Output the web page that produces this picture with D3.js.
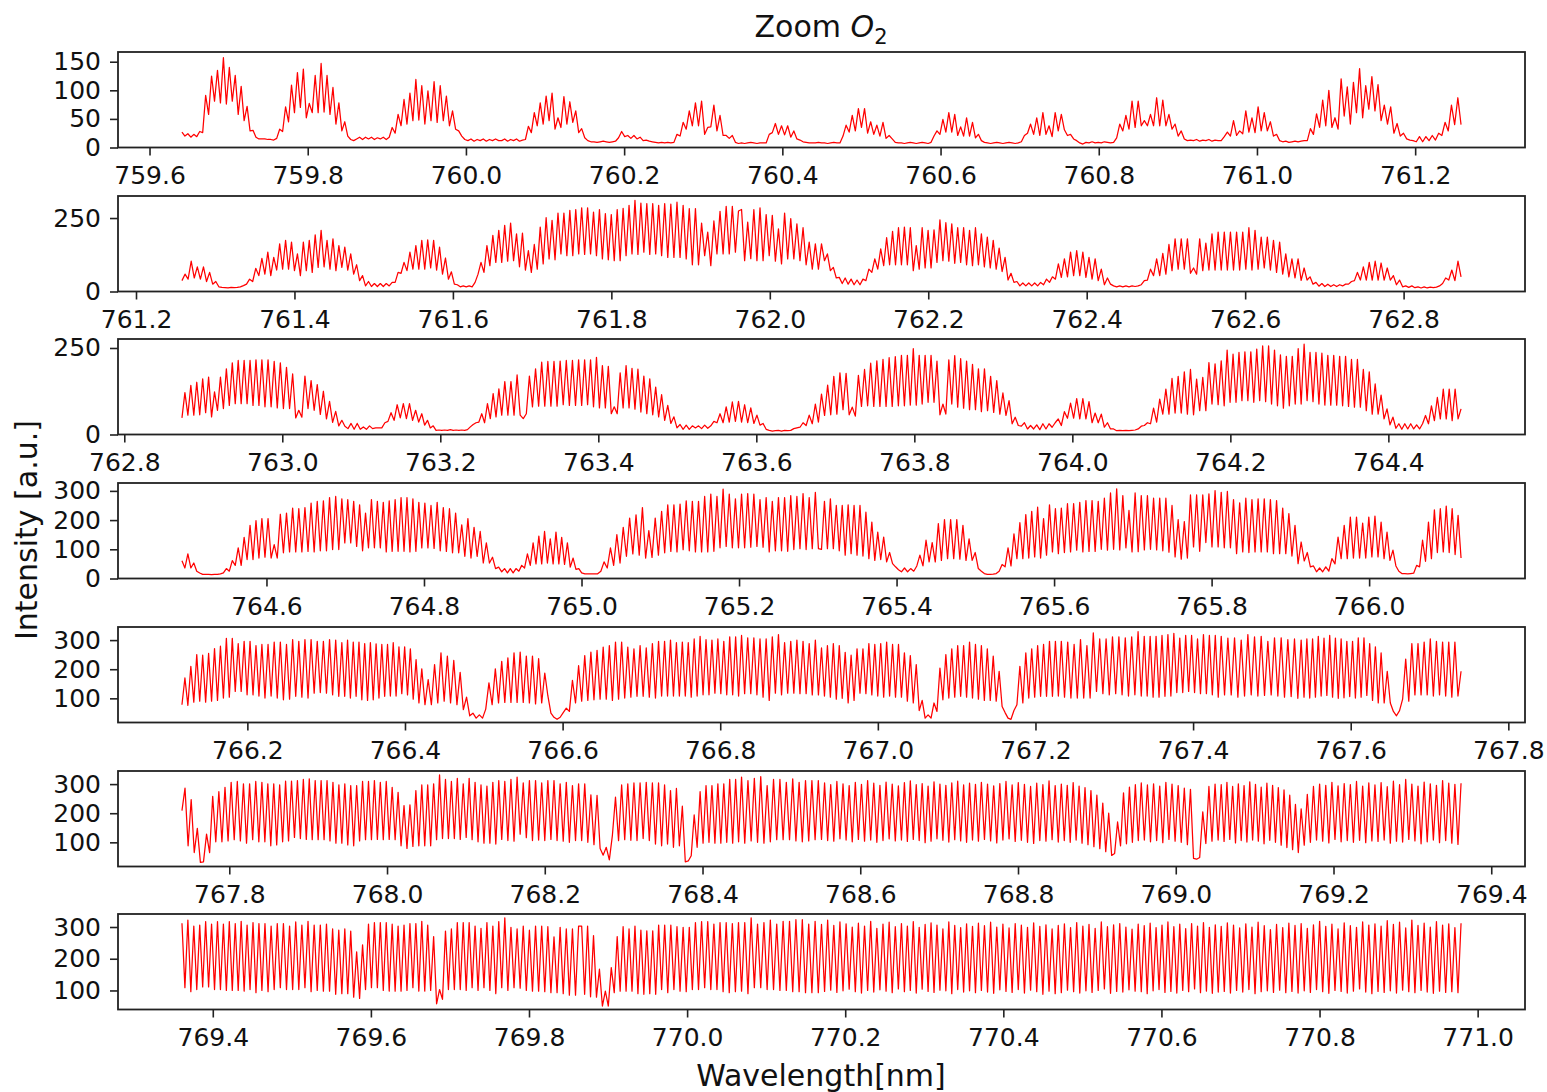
<!DOCTYPE html>
<html>
<head>
<meta charset="utf-8">
<script src="https://cdnjs.cloudflare.com/ajax/libs/d3/7.8.5/d3.min.js"></script>
<style>
  html, body { margin: 0; background: #fff; }
  text { font-family: "DejaVu Sans", sans-serif; fill: #111; }
</style>
</head>
<body>
<div class="chart"></div>
<script>
// DATA ------------------------------------
// every row is one 1/16 of the panel's wavelength span, samples read off the picture
const panel1 = [
[27,20,24,18,23,19,28,26,91,58,125,81,135,78,157,76,140,81,126,58,107,47,72,29,30,18,15],
[15,15,14,14,13,16,32,28,71,45,109,61,131,70,137,52,77,61,126,61,147,62,126,58,105,41,78],
[29,45,20,14,12,15,18,14,18,15,18,14,17,15,18,14,18,35,25,58,38,84,41,95,47,119,48],
[108,41,99,47,115,44,108,47,90,38,64,32,29,20,14,12,15,11,14,12,15,11,14,12,15,12],
[12,15,11,14,12,15,11,13,14,37,26,61,38,78,41,90,47,95,32,52,35,89,41,80,44,64,26],
[33,17,12,10,10,9,10,11,10,9,10,11,17,28,19,21,16,21,15,18,12,13,11,10,9,8],
[9,8,9,8,9,23,20,44,32,64,38,78,38,81,23,35,36,74,29,56,21,21,16,21,9,7],
[8,7,8,9,8,7,8,8,8,23,26,42,23,38,22,38,18,29,15,13,10,9,8,8,8,9],
[8,8,7,8,9,8,8,20,39,27,56,29,68,35,68,25,45,23,39,20,44,16,21,15,9,8],
[8,7,8,9,8,7,8,9,8,7,9,20,29,23,49,27,61,27,58,21,36,20,52,20,44,17,23],
[12,9,8,7,8,9,8,7,8,9,8,7,8,10,21,25,41,23,52,21,61,23,38,19,61,29],
[58,31,21,23,15,12,8,6,9,8,10,8,9,8,10,9,8,9,17,41,29,56,32,81,35,81],
[38,47,38,58,38,87,38,83,38,58,32,41,20,29,15,12,13,12,14,11,13,12,14,11,13,12],
[12,19,27,20,47,21,29,24,64,27,52,26,71,29,61,29,45,20,23,12,10,11,9,10,11,10],
[11,12,12,33,23,59,35,83,38,100,35,52,32,120,55,106,41,114,61,138,52,108,67,124,64,110],
[47,74,41,71,25,42,20,25,15,13,12,10,19,10,19,12,21,13,25,21,44,29,74,40,87,40]
];
const panel2 = [
[37,59,42,103,46,84,42,84,34,65,25,34,16,14,13,12,14,13,14,16,20,25,42,34,79,54],
[113,59,134,54,116,73,162,76,174,76,168,71,128,54,168,71,174,65,193,82,208,84,174,76,179,71,156],
[82,151,73,128,59,91,37,54,19,34,17,27,17,27,17,27,19,31,31,65,62,99,71,134,76,156,76],
[174,76,176,80,174,73,151,59,114,42,67,25,23,16,19,16,19,16,31,59,99,65,156,88,191,99,208],
[99,225,103,233,105,196,84,199,73,139,65,160,76,219,94,251,111,242,108,267,128,267,122,276,122,279,128],
[285,126,285,128,270,122,279,111,265,108,262,105,279,105,283,122,293,128,310,126,301,134,299,126,299,128,293],
[122,299,116,297,116,304,116,293,111,282,91,282,91,233,122,202,88,240,128,273,128,290,128,290,134,274],
[279,105,236,112,279,105,285,105,262,122,259,103,213,94,267,111,248,111,230,105,217,91,168,76,162,76],
[162,105,128,71,82,46,48,27,46,25,42,23,39,23,42,37,76,65,111,76,145,88,183,91,205,91,217],
[91,219,91,217,71,156,76,217,80,208,80,210,99,244,105,234,103,230,96,217,99,217,91,208,88,217,91],
[196,84,185,80,174,76,148,68,116,39,62,31,34,19,29,19,29,19,29,19,31,23,42,31,50,42,94],
[48,111,50,134,54,139,54,134,48,116,42,111,37,76,23,46,25,19,16,19,16,19,16,19,17,19],
[23,37,39,76,54,111,54,130,59,160,71,179,76,179,76,179,62,80,59,179,71,165,73,196,73,202],
[73,202,73,202,73,202,73,202,76,217,73,208,76,185,80,185,73,174,65,168,59,128,50,111,46,111],
[38,80,39,50,25,31,18,27,17,25,17,23,17,23,19,25,25,34,37,65,39,84,39,99,39,103,39],
[97,39,80,39,54,23,39,16,19,14,19,13,16,12,16,12,15,13,15,19,27,46,39,73,37,103,50]
];
const panel3 = [
[48,121,56,142,56,151,57,161,63,166,51,123,70,166,75,190,84,207,89,214,89,214,89,214,84,216,84],
[216,80,216,80,211,77,207,75,194,75,175,48,70,50,169,75,156,70,144,58,125,45,96,35,67,25],
[41,24,17,32,15,32,15,22,15,25,17,19,19,19,34,38,63,41,86,48,89,46,89,41,70,36],
[60,27,41,19,25,12,13,12,13,12,14,12,13,12,13,12,14,22,29,34,36,60,34,89,46,118,51,132],
[56,153,56,153,56,172,56,46,60,169,80,190,82,209,82,211,82,211,82,212,86,214,84,214,84,216],
[84,216,86,216,80,223,77,199,77,197,60,80,60,178,77,199,77,191,73,189,65,169,60,161,57,137,51],
[115,41,84,32,51,19,29,15,27,15,25,19,25,17,27,18,25,38,34,60,34,80,36,94,38,96],
[36,86,34,77,32,56,27,32,15,12,10,11,12,10,12,11,12,17,19,21,34,26,56,31,88,36],
[117,55,143,57,168,59,178,72,177,57,79,53,171,81,188,83,206,81,213,81,217,81,222,81,225,83],
[229,83,229,85,248,85,229,88,229,93,229,93,212,57,88,59,216,88,228,79,219,76,212,72,203,72,190],
[66,190,69,168,64,156,59,120,55,98,31,50,26,24,34,16,26,16,28,14,31,16,31,21,34,45],
[26,66,47,91,47,104,45,104,45,95,34,62,34,59,21,34,16,16,11,12,11,12,11,12,13,16],
[24,26,34,31,76,36,102,59,131,59,162,62,168,62,181,59,188,57,160,69,165,69,208,88,204,86],
[213,83,244,93,232,93,237,98,239,98,239,93,247,98,256,95,256,88,244,83,230,76,226,83,226,88,248],
[88,261,98,237,95,237,88,235,85,229,85,229,85,226,83,226,81,217,79,217,79,188,69,181,59,146,59],
[114,45,74,28,50,18,31,15,31,16,31,16,28,16,31,55,31,83,40,107,45,131,45,131,40,131,45,74]
];
const panel4 = [
[61,36,84,36,53,25,19,14,14,14,13,14,14,16,19,34,25,61,45,105,45,141,65,182,65,198,70],
[205,73,205,70,116,70,220,88,224,91,241,91,239,91,243,93,258,91,264,95,266,95,277,99,281,99],
[273,122,270,122,264,110,252,95,224,105,270,105,264,105,261,91,266,93,270,93,277,93,277,91,273,93,261],
[105,258,105,250,103,261,95,243,93,239,88,224,88,184,76,205,70,175,76,161,53,122,53,73,34,39],
[23,34,19,34,19,34,25,45,36,84,45,122,50,145,50,161,53,136,50,159,50,141,48,122,39,70,31,34],
[19,16,16,16,16,16,25,57,36,105,45,150,53,175,76,207,84,218,80,243,70,164,72,207,80],
[230,88,252,93,252,91,255,99,266,95,264,91,264,91,281,91,289,93,281,105,306,110,289,105,273,105],
[289,105,291,107,289,110,270,107,277,91,264,95,277,95,277,93,284,99,281,102,291,99,277,102,295,102],
[100,264,102,273,102,250,95,250,80,252,85,250,80,250,77,227,68,193,62,159,65,142,57,89,51,40,30],
[23,36,23,34,25,43,80,43,131,57,123,57,188,62,202,68,202,68,202,66,182,62,136,62,89,34],
[25,17,14,14,15,17,25,48,40,105,43,153,68,191,68,219,70,230,74,244,70,205,80,252,91,239,85],
[241,89,256,91,256,97,261,91,267,93,267,93,264,100,275,97,293,100,307,98,284,105,233,91,293,92],
[284,98,284,100,275,98,275,95,275,90,250,74,202,66,195,70,286,108,286,93,286,123,290,108,301,108],
[295,105,298,105,270,85,259,91,275,89,270,91,273,91,273,91,270,85,267,85,241,85,222,77,182,51],
[125,60,89,40,43,23,36,23,40,25,68,50,142,68,182,68,210,70,210,70,190,70,210,74,214,74],
[193,68,159,62,97,43,25,17,17,16,17,18,45,40,131,59,193,68,235,89,239,91,248,89,239,82,216,70]
];
const panel5 = [
[78,170,76,210,87,250,90,248,87,254,90,271,93,279,101,306,104,306,124,288,124,296,112,296,112,281,108],
[285,101,285,108,293,101,293,95,285,97,302,107,296,104,302,101,302,118,296,120,296,118,302,112,300,107],
[291,107,300,101,293,107,293,95,288,93,291,95,287,101,285,107,285,108,291,108,277,116,277,112,270,97,233,84],
[201,78,164,78,216,84,256,90,245,84,230,78,189,61,104,40,49,32,43,32,63,153,78,201,84],
[227,86,239,86,256,86,259,86,245,84,245,81,236,84,187,109,49,35,28,35,51,66,55,162,84,212],
[90,247,93,259,95,265,97,276,97,281,93,293,97,293,101,276,104,270,107,281,107,273,104,288,101,296],
[108,296,108,300,108,291,108,293,108,291,104,304,108,313,112,302,112,300,118,304,116,296,112,311,112,311,108],
[316,116,308,116,308,112,304,104,304,93,311,118,319,112,291,118,296,118,300,116,296,116,288,112,300,112],
[273,108,281,104,288,97,281,100,258,84,248,93,270,118,270,116,288,112,285,108,288,104,293,108,285,104,285],
[104,256,90,247,84,216,58,93,32,43,32,84,55,204,95,250,101,270,104,281,107,281,104,293,101,285,97],
[281,93,270,93,245,90,193,72,51,32,28,58,78,210,84,256,101,270,104,281,107,285,107,296,107,296,108],
[296,104,293,101,285,101,302,101,281,101,325,124,304,116,304,112,311,116,311,112,308,108,311,112,329],
[108,313,108,313,104,313,104,316,107,319,108,323,120,307,120,316,124,316,120,304,116,319,116,316,112,316,104],
[313,112,307,112,308,104,300,108,319,112,311,108,313,110,296,112,308,108,308,104,302,106,304,100],
[300,104,304,101,304,104,313,108,307,110,316,104,307,100,304,102,296,106,296,101,308,104,308,110,288,93,277,84],
[256,84,193,84,55,40,58,97,235,90,288,112,288,112,293,112,304,108,296,112,293,108,293,104,293,108,193]
];
const panel6 = [
[209,286,88,247,65,148,31,33,128,65,258,102,274,102,289,105,306,109,309,105,301,97,301,109,309,102],
[306,102,301,88,301,91,297,102,310,105,310,117,312,113,316,110,318,109,312,109,312,109,312,105,306,97,297],
[97,301,91,295,88,295,105,309,109,309,109,312,110,306,109,309,110,289,109,272,88,226,79,229,86,278,88],
[297,88,297,88,301,109,332,113,316,113,309,113,320,110,301,117,320,109,306,102,297,97,293,97,306,94,312],
[110,309,106,316,104,324,128,304,116,312,106,312,108,304,106,312,110,312,106,301,104,306,100,295,106,301],
[106,301,100,263,92,261,79,56,83,40,125,255,106,297,109,301,107,304,106,304,113,306,106,304,94,304],
[88,297,94,278,83,285,88,224,33,36,54,194,83,274,97,295,100,295,97,301,97,301,100,316,97,316,102],
[324,97,312,105,320,100,326,97,295,102,316,109,316,109,306,109,318,105,306,102,312,105,312,109,312],
[110,304,106,298,104,309,112,301,108,295,102,306,110,299,104,312,108,303,100,296,106,307,112,300,105,294],
[108,305,103,311,110,298,106,302,99,293,104,308,112,300,107,296,101,304,109,310,105,297,100,303,108,299,104],
[306,110,300,105,294,98,302,108,309,112,297,103,305,107,299,100,292,96,303,106,298,104,311,109,295,101],
[300,106,296,100,305,108,293,97,288,92,278,85,262,78,235,68,200,55,62,170,88,270,95,290,100,298,106],
[304,108,297,102,301,106,293,99,306,110,300,104,295,100,286,92,282,45,42,48,205,96,292,104,300,108],
[298,103,306,110,292,98,301,106,295,101,308,108,299,104,290,95,303,107,296,100,288,90,280,82,262,75,230,65],
[215,90,265,100,292,108,300,104,296,98,306,110,294,102,302,106,298,100,309,107,293,99,304,105,297,103],
[305,108,291,97,310,104,298,101,316,110,300,105,293,95,307,102,301,108,296,99,312,106,303,97,299,93,303]
];
const panel7 = [
[312,109,322,96,303,103,306,111,317,111,309,103,317,103,309,100,317,100,311,100,318,98,306,103,314,93,311],
[100,311,96,303,103,311,109,311,103,303,103,316,103,306,109,318,96,306,100,306,98,309,98,294,88,290],
[90,294,90,287,79,222,75,244,103,309,109,314,109,314,100,314,98,309,98,303,98,306,100,311,109,311,98],
[318,98,306,100,270,58,103,72,287,103,294,103,314,103,314,100,314,109,303,100,296,109,314,100,303,90,317],
[109,329,100,299,109,294,107,303,100,290,98,303,98,303,96,301,93,269,93,299,90,294,85,294,85,303],
[303,88,303,80,273,79,167,51,98,51,172,93,270,98,301,98,294,98,303,90,290,88,288,90,288,88,306],
[103,306,93,306,103,301,98,299,96,299,103,314,103,317,109,317,103,309,103,314,96,314,93,311,96,314],
[98,314,90,329,109,309,109,314,103,322,103,309,100,318,100,318,96,323,96,323,93,309,93,318,93],
[308,97,322,101,305,94,316,99,310,104,300,96,312,92,303,100,318,95,296,102,309,98,315,93,301,105],
[311,96,303,100,317,92,299,104,308,97,313,94,306,101,294,99,316,90,305,103,298,95,310,99,302,93,312],
[100,304,95,315,91,300,102,309,97,297,94,311,103,306,92,299,101,313,96,302,88,307,98,294,90,305],
[93,310,101,298,96,314,92,303,99,308,94,296,100,316,105,301,91,307,97,311,95,300,102,293,98,309],
[96,304,90,312,99,298,103,306,94,316,97,301,92,309,100,295,96,311,105,303,93,314,98,299,91,307,95],
[302,97,313,92,306,100,297,95,310,103,300,90,315,96,304,99,292,94,308,101,298,93,312,97,305,92],
[311,99,296,94,307,103,318,96,302,91,309,100,294,97,313,92,304,98,299,105,316,95,306,90,310,97],
[303,94,320,99,308,92,315,101,297,96,322,93,305,100,312,95,300,91,317,98,306,94,310,96,298,93,312]
];

const intensity = [panel1, panel2, panel3, panel4, panel5, panel6, panel7];
const startWavelength = [759.641, 761.258, 762.873, 764.4927, 766.117, 767.74, 769.361];
const wavelengthSpan = [1.617, 1.6145, 1.619, 1.624, 1.623, 1.6217, 1.618];

const xTicks = [
    [759.6, 759.8, 760.0, 760.2, 760.4, 760.6, 760.8, 761.0, 761.2],
    [761.2, 761.4, 761.6, 761.8, 762.0, 762.2, 762.4, 762.6, 762.8],
    [762.8, 763.0, 763.2, 763.4, 763.6, 763.8, 764.0, 764.2, 764.4],
    [764.6, 764.8, 765.0, 765.2, 765.4, 765.6, 765.8, 766.0],
    [766.2, 766.4, 766.6, 766.8, 767.0, 767.2, 767.4, 767.6, 767.8],
    [767.8, 768.0, 768.2, 768.4, 768.6, 768.8, 769.0, 769.2, 769.4],
    [769.4, 769.6, 769.8, 770.0, 770.2, 770.4, 770.6, 770.8, 771.0]
];
const yTicks = [
    [0, 50, 100, 150],
    [0, 250],
    [0, 250],
    [0, 100, 200, 300],
    [100, 200, 300],
    [100, 200, 300],
    [100, 200, 300]
];
const yDomains = [[0, 167], [0, 325], [0, 276], [0, 327], [17, 345], [17, 345], [40, 341]];

// CHART INIT ------------------------------
const panelTops = [52, 196, 339, 483, 627, 771, 914];
const margin = { left: 118, right: 22 },
    width = 1547 - margin.left - margin.right,
    panelHeight = 95.5;

const svg = d3.select('.chart')
    .append('svg')
    .attr('width', 1547)
    .attr('height', 1092);

const line = d3.line()
    .x(d => d.x)
    .y(d => d.y);

intensity.forEach((rows, p) => {
    const group = svg.append('g')
        .attr('transform', `translate(${margin.left},${panelTops[p]})`);

    const start = startWavelength[p];
    const span = wavelengthSpan[p];
    const xScale = d3.scaleLinear()
        .domain([start - 0.05 * span, start + 1.05 * span])
        .range([0, width]);
    const yScale = d3.scaleLinear()
        .domain(yDomains[p])
        .range([panelHeight, 0]);

    // samples sit evenly inside their row's 1/16 of the span
    const rowSpan = span / rows.length;
    const points = [];
    rows.forEach((row, r) => {
        const last = r === rows.length - 1 ? row.length - 1 : row.length;
        row.forEach((v, j) => {
            points.push({
                x: xScale(start + rowSpan * (r + j / last)),
                y: yScale(v)
            });
        });
    });

    group.append('path')
        .datum(points)
        .attr('d', line)
        .attr('fill', 'none')
        .attr('stroke', '#ff0000')
        .attr('stroke-width', 1.25)
        .attr('stroke-linejoin', 'round');

    const xAxis = d3.axisBottom(xScale)
        .tickValues(xTicks[p])
        .tickFormat(d3.format('.1f'))
        .tickSize(8)
        .tickSizeOuter(0)
        .tickPadding(11);
    const yAxis = d3.axisLeft(yScale)
        .tickValues(yTicks[p])
        .tickFormat(d3.format('d'))
        .tickSize(8)
        .tickSizeOuter(0)
        .tickPadding(9);

    const xDisplay = group.append('g')
        .attr('transform', `translate(0,${panelHeight})`)
        .call(xAxis);
    const yDisplay = group.append('g').call(yAxis);

    [xDisplay, yDisplay].forEach(a => {
        a.select('.domain').remove();
        a.selectAll('line').attr('stroke', '#222').attr('stroke-width', 1.6);
        a.selectAll('text').attr('font-size', 25).attr('font-family', '"DejaVu Sans", sans-serif').attr('fill', '#111');
    });

    // axes frame
    group.append('rect')
        .attr('width', width)
        .attr('height', panelHeight)
        .attr('fill', 'none')
        .attr('stroke', '#222')
        .attr('stroke-width', 1.8);
});

// title and axis labels
const title = svg.append('text')
    .attr('x', 821)
    .attr('y', 37)
    .attr('text-anchor', 'middle')
    .attr('font-size', 30);
title.append('tspan').text('Zoom ');
title.append('tspan').attr('font-style', 'italic').text('O');
title.append('tspan').attr('font-size', 21).attr('dy', 7).text('2');

svg.append('text')
    .attr('x', 821)
    .attr('y', 1086)
    .attr('text-anchor', 'middle')
    .attr('font-size', 30)
    .text('Wavelength[nm]');

svg.append('text')
    .attr('transform', 'translate(37,530) rotate(-90)')
    .attr('text-anchor', 'middle')
    .attr('font-size', 30)
    .text('Intensity [a.u.]');
</script>
</body>
</html>
